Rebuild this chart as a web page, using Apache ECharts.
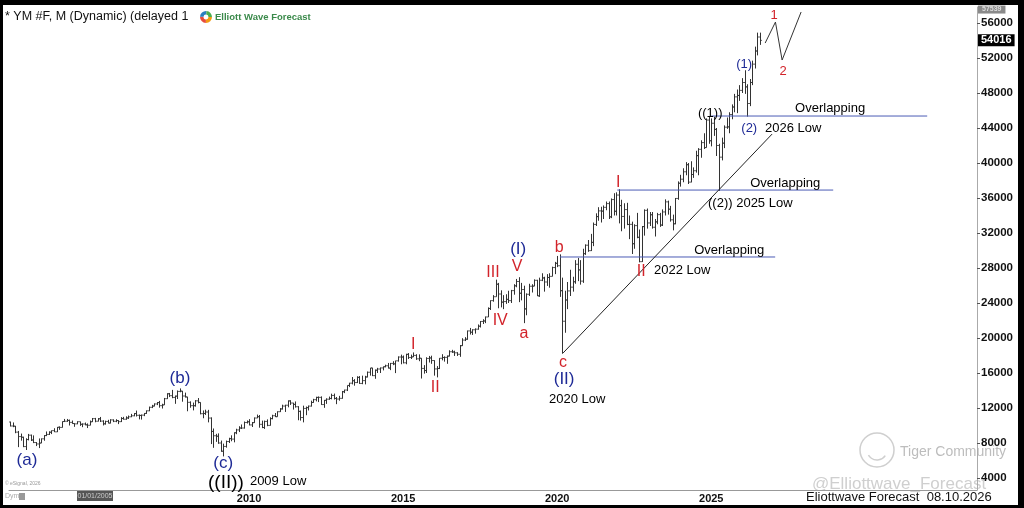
<!DOCTYPE html>
<html>
<head>
<meta charset="utf-8">
<title>YM #F, M</title>
<script src="https://cdn.jsdelivr.net/npm/echarts@6.0.0/dist/echarts.min.js"></script>
<style>
  html, body { margin: 0; padding: 0; background: #000; }
  #chart { position: absolute; left: 3px; top: 5px; width: 1015px; height: 500px; background: #fff; }
</style>
</head>
<body>
<div id="chart"></div>
<script>
// monthly bars, Apr 2002 .. Aug 2026 (index 0 = Apr 2002)
var firstOpen = 10400;
var closes = [
  9946, 9925, 9243, 8737, 8663, 7592, 8397, 8896, 8342,
  8054, 7891, 7992, 8480, 8850, 8985, 9233, 9415, 9275, 9801, 9782, 10454,
  10488, 10583, 10357, 10226, 10188, 10435, 10140, 10174, 10080, 10027, 10428, 10783,
  10490, 10766, 10504, 10193, 10467, 10275, 10641, 10482, 10568, 10440, 10806, 10718,
  10865, 10993, 11109, 11367, 11168, 11150, 11186, 11381, 11679, 12081, 12222, 12463,
  12622, 12269, 12354, 13063, 13628, 13409, 13212, 13358, 13896, 13930, 13372, 13265,
  12650, 12266, 12263, 12820, 12638, 11350, 11378, 11544, 10851, 9325, 8829, 8776,
  8001, 7063, 7609, 8168, 8500, 8447, 9172, 9496, 9712, 9713, 10345, 10428,
  10067, 10325, 10857, 11009, 10137, 9774, 10466, 10015, 10788, 11118, 11006, 11578,
  11892, 12226, 12320, 12811, 12570, 12414, 12143, 11614, 10913, 11955, 12046, 12218,
  12633, 12952, 13212, 13214, 12393, 12880, 13009, 13091, 13437, 13096, 13026, 13104,
  13861, 14054, 14579, 14840, 15116, 14910, 15500, 14810, 15130, 15546, 16086, 16577,
  15699, 16322, 16458, 16581, 16717, 16827, 16563, 17098, 17043, 17391, 17828, 17823,
  17165, 18133, 17776, 17841, 18011, 17620, 17690, 16528, 16285, 17664, 17720, 17425,
  16466, 16517, 17685, 17774, 17787, 17930, 18432, 18401, 18308, 18142, 19124, 19763,
  19864, 20812, 20663, 20941, 21009, 21350, 21891, 21948, 22405, 23377, 24272, 24719,
  26149, 25029, 24103, 24163, 24416, 24271, 25415, 25965, 26458, 25116, 25538, 23327,
  24999, 25916, 25929, 26593, 24815, 26600, 26864, 26403, 26917, 27046, 28051, 28538,
  28256, 25409, 21917, 24346, 25383, 25813, 26428, 28430, 27782, 26502, 29638, 30606,
  29983, 30932, 32982, 33875, 34529, 34503, 34935, 35361, 33844, 35820, 34484, 36338,
  35132, 33893, 34678, 32977, 32990, 30775, 32845, 31510, 28726, 32733, 34590, 33147,
  34086, 32657, 33274, 34098, 32908, 34408, 35560, 34722, 33508, 33053, 35951, 37690,
  38150, 38996, 39807, 37816, 38686, 39119, 40843, 41563, 42330, 41763, 44911, 42544,
  44545, 43841, 42002, 40669, 42270, 44095, 44130, 45545, 46400, 47560, 47720, 48300,
  49200, 48700, 46800, 49200, 51300, 52800, 54400, 54016
];
var highs = [
  10440, 10350, 9950, 9380, 9080, 8720, 8540, 9040, 8960,
  8870, 8110, 8520, 8520, 8900, 9320, 9340, 9430, 9690, 9830, 9900, 10460,
  10750, 10750, 10680, 10570, 10260, 10480, 10360, 10240, 10340, 10240, 10570, 10860,
  10870, 10850, 10980, 10600, 10550, 10650, 10720, 10700, 10720, 10600, 10960, 10990,
  11050, 11140, 11330, 11420, 11710, 11260, 11250, 11420, 11720, 12160, 12360, 12530,
  12680, 12810, 12490, 13150, 13690, 13720, 14070, 13420, 14000, 14240, 13950, 13760,
  13280, 12760, 12620, 12900, 13140, 12650, 11720, 11810, 11790, 10930, 9660, 9050,
  9100, 8280, 7930, 8280, 8600, 8880, 9220, 9630, 9920, 10120, 10460, 10580,
  10730, 10400, 10920, 11250, 11200, 10560, 10560, 10700, 10940, 11230, 11430, 11620,
  11990, 12380, 12370, 12870, 12890, 12590, 12750, 12210, 11710, 12270, 12170, 12280,
  12840, 13050, 13290, 13320, 13330, 12920, 13110, 13310, 13640, 13650, 13260, 13390,
  13950, 14090, 14580, 14880, 15540, 15300, 15630, 15650, 15700, 15680, 16170, 16580,
  16590, 16400, 16590, 16630, 16740, 16950, 17150, 17150, 17350, 17400, 17900, 18100,
  18000, 18200, 18280, 18100, 18350, 18150, 18130, 17700, 16900, 17800, 17950, 17980,
  17450, 16790, 17700, 18150, 17900, 18000, 18600, 18650, 18550, 18380, 19200, 19980,
  20100, 20850, 21150, 21000, 21100, 21550, 21940, 22150, 22450, 23500, 24300, 24900,
  26670, 26300, 25450, 24900, 25000, 25400, 25500, 26150, 26750, 26950, 26300, 25980,
  25100, 26200, 26150, 26700, 26650, 26900, 27400, 27000, 27300, 27400, 28150, 28700,
  29380, 29560, 26900, 25400, 26400, 27800, 27000, 28900, 29150, 28900, 30200, 30700,
  31200, 31900, 33200, 34250, 34950, 35000, 35150, 35600, 35600, 35950, 36550, 36650,
  37000, 35800, 35400, 35450, 34000, 33300, 33000, 34300, 32400, 32800, 34700, 34800,
  34400, 34400, 33600, 34300, 34300, 34700, 35850, 35700, 35100, 34100, 36000, 37900,
  38650, 39400, 40100, 40000, 40200, 39500, 41400, 41700, 42600, 43400, 45100, 45300,
  45100, 45300, 44000, 42200, 42900, 44300, 45200, 45800, 46700, 47900, 48400, 48900,
  49700, 50600, 49000, 49600, 51700, 53300, 54900, 54900
];
var lows = [
  9900, 9810, 9120, 7530, 8270, 7530, 7200, 8300, 8230,
  7990, 7650, 7420, 7990, 8260, 8790, 8920, 9020, 9260, 9260, 9510, 9770,
  10410, 10420, 10000, 10200, 9850, 10150, 9960, 9810, 10030, 9710, 10030, 10410,
  10370, 10470, 10400, 10010, 10100, 10250, 10240, 10390, 10380, 10160, 10400, 10680,
  10660, 10750, 10960, 11060, 11030, 10700, 10680, 11070, 11330, 11640, 11990, 12190,
  12330, 12040, 11940, 12350, 13040, 13250, 13120, 12480, 13030, 13800, 12720, 13200,
  11630, 12030, 11730, 12160, 12530, 11280, 10830, 11210, 10360, 7880, 7450, 8130,
  7910, 7000, 6470, 7470, 8000, 8200, 8080, 9010, 9250, 9600, 9650, 10230,
  10020, 9830, 10300, 10850, 9750, 9700, 9610, 9920, 9990, 10710, 10970, 11010,
  11550, 11830, 11550, 12080, 12350, 11820, 12050, 10600, 10560, 10360, 11180, 11720,
  12170, 12600, 12760, 12680, 12360, 12020, 12470, 12940, 12990, 12970, 12440, 12840,
  13070, 13700, 13940, 14390, 14700, 14550, 14850, 14760, 14720, 14700, 15500, 15700,
  15650, 15340, 16000, 16000, 16300, 16650, 16520, 16330, 16900, 15990, 17300, 17000,
  17100, 17000, 17600, 17600, 17830, 17500, 17350, 15370, 15930, 16000, 17200, 17050,
  15700, 15500, 16450, 17450, 17300, 17050, 17900, 18300, 17950, 17950, 17850, 19100,
  19650, 19800, 20400, 20350, 20500, 20950, 21200, 21600, 21700, 22400, 23200, 24150,
  24800, 23400, 23500, 23300, 23900, 24000, 24000, 24950, 25800, 24100, 24300, 21700,
  22600, 24800, 25200, 25950, 24800, 24700, 26500, 25300, 25950, 25750, 27050, 27300,
  28100, 24700, 18200, 20600, 23300, 24800, 25300, 26200, 26500, 26100, 26300, 29500,
  29850, 29950, 30500, 32800, 33400, 33200, 33600, 34600, 33600, 33700, 34000, 34000,
  33100, 32200, 32500, 32900, 31300, 29600, 30200, 31400, 28650, 28700, 31700, 32500,
  32800, 32500, 31600, 33000, 32700, 32800, 34000, 34100, 33300, 32300, 33000, 35800,
  37300, 37800, 38600, 37600, 37800, 38300, 38900, 38600, 40600, 41600, 41800, 42200,
  41900, 43100, 40800, 36800, 40300, 41700, 43900, 43400, 45000, 45800, 45700, 47100,
  48000, 47900, 45300, 46500, 48900, 50800, 52300, 53500
];

var yearTicks = [93, 153, 213, 273];
var yearNames = ['2010', '2015', '2020', '2025'];
var priceTicks = [4000, 8000, 12000, 16000, 20000, 24000, 28000, 32000, 36000, 40000, 44000, 48000, 52000, 56000];
var lastPrice = 54016;
var topPrice = 57539;

// [text, month index, price, style]
var waveLabels = [
  ['(a)', 6.5, 6060, 'blue'],
  ['(b)', 66.1, 15430, 'blue'],
  ['(c)', 82.9, 5710, 'blue'],
  ['((II))', 84.0, 3430, 'blackBig'],
  ['2009 Low', 104.3, 3660, 'black'],
  ['I', 156.9, 19200, 'red'],
  ['II', 165.5, 14290, 'red'],
  ['III', 188.0, 27430, 'red'],
  ['V', 197.4, 28110, 'red'],
  ['(I)', 197.8, 30170, 'blue'],
  ['IV', 190.8, 21940, 'red'],
  ['a', 200.1, 20460, 'red'],
  ['b', 213.8, 30290, 'red'],
  ['c', 215.3, 17140, 'red'],
  ['(II)', 215.7, 15310, 'blue'],
  ['2020 Low', 220.8, 13030, 'black'],
  ['I', 236.8, 37710, 'red'],
  ['II', 245.7, 27540, 'red'],
  ['2022 Low', 261.7, 27770, 'black'],
  ['Overlapping', 280.0, 30060, 'black'],
  ['Overlapping', 301.8, 37710, 'black'],
  ['((2)) 2025 Low', 288.2, 35430, 'black'],
  ['((1))', 272.6, 45710, 'black'],
  ['Overlapping', 319.3, 46290, 'black'],
  ['(1)', 285.8, 51310, 'blueSmall'],
  ['(2)', 287.8, 44000, 'blueSmall'],
  ['2026 Low', 304.9, 44000, 'black'],
  ['1', 297.5, 56910, 'redSmall'],
  ['2', 301.0, 50510, 'redSmall']
];

var overlap2022 = [[214.1, 29260], [297.9, 29260]];
var overlap2025 = [[236.4, 36910], [320.5, 36910]];
var overlap2026 = [[273.0, 45370], [357.1, 45370]];
var trendLine = [[215.3, 18290], [296.7, 43310]];
var projection = [[294.0, 53710], [298.0, 56110], [300.6, 51770], [308.0, 57260]];

var FONT = 'Liberation Sans, Arial, sans-serif';
var labelStyles = {
  red: { color: '#d2232a', fontSize: 16 },
  redSmall: { color: '#d2232a', fontSize: 13 },
  blue: { color: '#1e2a96', fontSize: 17 },
  blueSmall: { color: '#1e2a96', fontSize: 13 },
  black: { color: '#000', fontSize: 13 },
  blackBig: { color: '#000', fontSize: 19 }
};

var ohlc = closes.map(function (c, i) {
  var o = i === 0 ? firstOpen : closes[i - 1];
  return [i, o, Math.max(highs[i], o, c), Math.min(lows[i], o, c), c];
});

function renderBar(params, api) {
  var i = api.value(0);
  var o = api.coord([i, api.value(1)]);
  var h = api.coord([i, api.value(2)]);
  var l = api.coord([i, api.value(3)]);
  var c = api.coord([i, api.value(4)]);
  var w = api.size([1, 0])[0] * 0.5;
  var x = Math.round(h[0]) + 0.5;
  return {
    type: 'group',
    children: [
      { type: 'line', shape: { x1: x, y1: h[1], x2: x, y2: l[1] }, style: { stroke: '#333', lineWidth: 1 } },
      { type: 'line', shape: { x1: x - w, y1: o[1], x2: x, y2: o[1] }, style: { stroke: '#333', lineWidth: 1 } },
      { type: 'line', shape: { x1: x, y1: c[1], x2: x + w, y2: c[1] }, style: { stroke: '#333', lineWidth: 1 } }
    ]
  };
}

function plainLine(data, color) {
  return {
    type: 'line', data: data, symbol: 'none', silent: true, z: 3,
    lineStyle: { color: color, width: 1 }
  };
}

function priceTag(value, bg, fg, size, pad) {
  return {
    yAxis: value,
    label: {
      show: true, position: 'end', distance: 1, formatter: String(value),
      backgroundColor: bg, color: fg, fontSize: size, fontWeight: 'bold', padding: pad, fontFamily: FONT
    }
  };
}

var trendSeries = plainLine(trendLine, '#222');
trendSeries.markLine = {
  silent: true, symbol: 'none', animation: false,
  lineStyle: { color: 'rgba(255,255,255,0)', width: 0, type: 'solid' },
  data: [
    priceTag(lastPrice, '#000', '#fff', 11, [1, 3, 0, 3]),
    priceTag(topPrice, '#8a8a8a', '#ddd', 7, [1, 4, 0, 4])
  ]
};

var myChart = echarts.init(document.getElementById('chart'));
var option = {
  backgroundColor: '#fff',
  animation: false,
  textStyle: { fontFamily: FONT },
  grid: { left: 6, right: 41, top: 2, bottom: 15 },
  xAxis: {
    type: 'value', min: -0.5, max: 376.5,
    splitLine: { show: false },
    axisLine: { onZero: false, lineStyle: { color: '#999' } },
    axisTick: { show: false },
    axisLabel: {
      customValues: yearTicks,
      formatter: function (v) { return yearNames[yearTicks.indexOf(v)]; },
      color: '#111', fontSize: 11, fontWeight: 'bold', margin: 3
    }
  },
  yAxis: {
    type: 'value', position: 'right', min: 2630, max: 57830,
    splitLine: { show: false },
    axisLine: { show: true, onZero: false, lineStyle: { color: '#aaa' } },
    axisTick: { show: true, customValues: priceTicks, length: 3, lineStyle: { color: '#555' } },
    axisLabel: {
      customValues: priceTicks, color: '#111', fontSize: 11.5, fontWeight: 'bold', margin: 4,
      formatter: function (v) { return String(v); }
    }
  },
  series: [
    {
      type: 'custom', renderItem: renderBar, data: ohlc, silent: true, z: 2,
      encode: { x: 0, y: [1, 2, 3, 4] }
    },
    plainLine(overlap2022, '#4b5bb5'),
    plainLine(overlap2025, '#4b5bb5'),
    plainLine(overlap2026, '#4b5bb5'),
    trendSeries,
    plainLine(projection, '#333'),
    {
      type: 'scatter', symbolSize: 0, silent: true, z: 5,
      itemStyle: { opacity: 1 },
      data: waveLabels.map(function (d) {
        var s = labelStyles[d[3]];
        return {
          value: [d[1], d[2]],
          label: { show: true, position: 'inside', formatter: d[0], color: s.color, fontSize: s.fontSize, fontFamily: FONT, opacity: 1 }
        };
      })
    }
  ],
  graphic: [
    { type: 'text', left: 2, top: 5, style: { text: '* YM #F, M (Dynamic) (delayed 1', fontSize: 12.5, fill: '#111', fontFamily: FONT } },
    { type: 'sector', shape: { cx: 203, cy: 12, r: 6, r0: 2.5, startAngle: 0, endAngle: 1.6 }, style: { fill: '#f39c12' } },
    { type: 'sector', shape: { cx: 203, cy: 12, r: 6, r0: 2.5, startAngle: 1.6, endAngle: 3.2 }, style: { fill: '#e74c3c' } },
    { type: 'sector', shape: { cx: 203, cy: 12, r: 6, r0: 2.5, startAngle: 3.2, endAngle: 4.8 }, style: { fill: '#2a7fc1' } },
    { type: 'sector', shape: { cx: 203, cy: 12, r: 6, r0: 2.5, startAngle: 4.8, endAngle: 6.29 }, style: { fill: '#4caf50' } },
    { type: 'text', left: 212, top: 7, style: { text: 'Elliott Wave Forecast', fontSize: 9.5, fontWeight: 'bold', fill: '#3b8a4b', fontFamily: FONT } },
    { type: 'text', left: 2, top: 476, style: { text: '\u00a9 eSignal, 2026', fontSize: 5, fill: '#999', fontFamily: FONT } },
    { type: 'text', left: 2, top: 488, style: { text: 'Dym', fontSize: 7, fill: '#aaa', fontFamily: FONT } },
    { type: 'rect', shape: { x: 16, y: 488, width: 6, height: 7 }, style: { fill: '#999' } },
    { type: 'rect', shape: { x: 74, y: 486, width: 36, height: 10 }, style: { fill: '#555' } },
    { type: 'text', x: 92, y: 491, style: { text: '01/01/2005', fontSize: 7, fill: '#ccc', align: 'center', verticalAlign: 'middle', fontFamily: FONT } },
    { type: 'circle', shape: { cx: 874, cy: 445, r: 17 }, style: { fill: 'none', stroke: '#cfcfcf', lineWidth: 1.5 } },
    { type: 'arc', shape: { cx: 874, cy: 445, r: 10, startAngle: 0.6, endAngle: 2.6 }, style: { fill: 'none', stroke: '#cfcfcf', lineWidth: 1.5 } },
    { type: 'text', x: 897, y: 447, style: { text: 'Tiger Community', fontSize: 14, fill: '#bdbdbd', verticalAlign: 'middle', fontFamily: FONT } },
    { type: 'text', x: 809, y: 479, style: { text: '@Elliottwave_Forecast', fontSize: 17, fill: '#cfcfcf', verticalAlign: 'middle', fontFamily: FONT } },
    { type: 'text', x: 803, y: 492, style: { text: 'Eliottwave Forecast  08.10.2026', fontSize: 13, fill: '#111', verticalAlign: 'middle', fontFamily: FONT } }
  ]
};
myChart.setOption(option);
</script>
</body>
</html>
